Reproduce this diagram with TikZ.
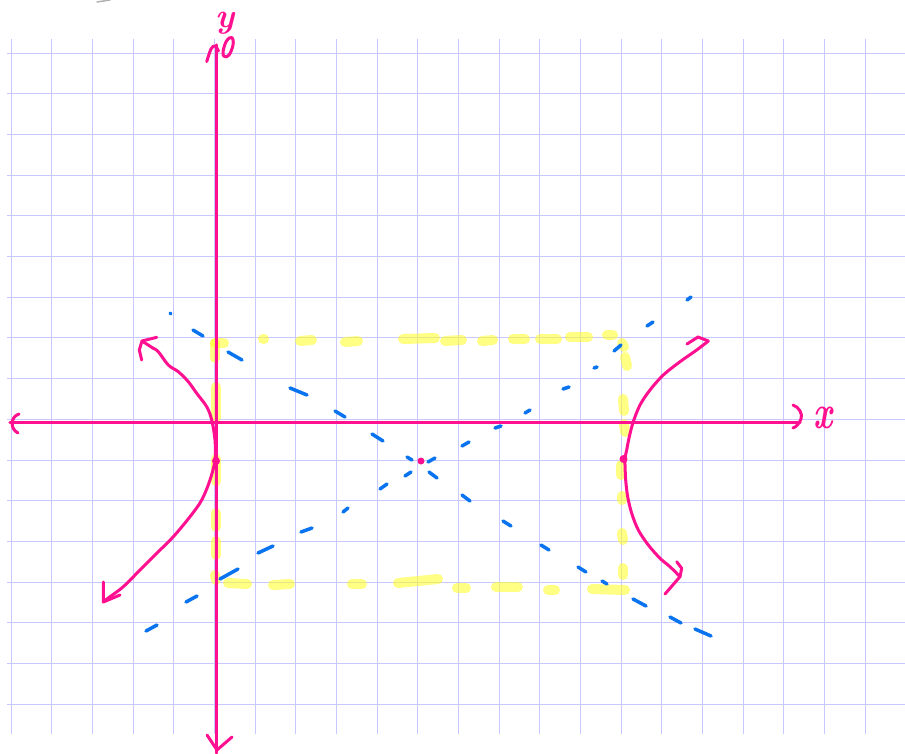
\documentclass[tikz,border=0pt]{standalone}
\usepackage{fontspec}
\definecolor{gridc}{RGB}{200,200,255}
\definecolor{pinkc}{RGB}{255,16,144}
\definecolor{bluec}{RGB}{10,116,240}
\definecolor{yelc}{RGB}{255,255,30}
\begin{document}
\begin{tikzpicture}[x=1pt,y=-1pt,
  gridline/.style={gridc, line width=1pt},
  pinkline/.style={pinkc, line width=3pt, line cap=round, line join=round},
  axisline/.style={pinkc, line width=3.4pt, line cap=round, line join=round},
  asym/.style={bluec, line width=3.5pt, line cap=round},
  boxdash/.style={yelc, line width=10pt, line cap=round, opacity=0.55},
  pdot/.style={circle, fill=pinkc, inner sep=0pt, minimum size=8pt},
  lbl/.style={text=pinkc, font=\fontsize{34}{34}\selectfont\bfseries\itshape, inner sep=0pt}
]
\useasboundingbox (0,0) rectangle (905,753);
\fill[white] (0,0) rectangle (905,753);
% grid
\foreach \k in {0,...,21} \draw[gridline] ({11+40.67*\k},39) -- ({11+40.67*\k},734);
\foreach \j in {0,...,16} \draw[gridline] (7,{53.3+40.67*\j}) -- (905,{53.3+40.67*\j});
% gray smudge
\draw[gray!60, line width=1.5pt, line cap=round] (97,2) -- (110,0);
% yellow box (dashed rectangle)
\foreach \a/\b/\c/\d in {
  215/343/224/343, 263/339/264/339, 300/341/312/340, 345/342/358/341,
  403/339/435/338, 445/341/462/340, 482/341/493/340, 513/339/525/339,
  540/339/557/339, 570/337/588/337, 607/335/613/335,
  622/343/624/347, 625/357/627/366, 623/399/624/411, 624/424/625/432,
  621/465/621/475, 622/496/622/500, 622/533/623/540, 623/568/623/575,
  215/343/215/358, 216/387/216/418, 216/459/216/481, 216/513/216/527,
  216/541/216/555, 215/575/216/580,
  228/583/247/584, 273/585/290/584, 352/584/362/584, 398/583/438/579,
  457/588/466/588, 496/587/518/587, 548/590/555/590, 592/589/625/590}
  \draw[boxdash] (\a,\b) -- (\c,\d);
% blue asymptotes
\foreach \a/\b/\c/\d in {
  146/631/157/625, 186/602/197/596, 220/579/238/569, 258/553/273/546,
  301/532/312/528, 343/512/348/508, 380/489/387/484, 405/476/411/472,
  428/462/435/458, 462/446/469/442, 495/428/501/426, 525/413/530/410,
  563/389/569/387, 594/368/597/367, 614/351/621/345, 647/326/653/322,
  687/300/691/297}
  \draw[asym] (\a,\b) -- (\c,\d);
\foreach \a/\b/\c/\d in {
  170/313/171/314, 193/330/203/336, 228/352/242/360, 290/388/307/395,
  335/411/345/417, 372/434/383/441, 407/457/412/460, 429/472/437/478,
  462/495/470/501, 503/521/511/526, 541/545/549/550, 578/567/586/572,
  602/581/607/584, 633/599/646/606, 670/617/681/623, 695/629/711/636}
  \draw[asym] (\a,\b) -- (\c,\d);
% axes
\draw[axisline] (10,422.5) -- (800,422.5);
\draw[axisline] (216.7,45) -- (216.7,753);
\draw[pinkline] (19,414) .. controls (10,417) and (10,429) .. (18,433);
\draw[pinkline] (793,405) .. controls (799,407) and (803,414) .. (801,419)
  .. controls (799,424) and (796,427) .. (793,428);
\draw[pinkline] (207,735) -- (217,750) -- (232,737);
\draw[pinkline] plot[smooth, tension=0.6] coordinates {(206.7,61.7) (211,49) (215,46) (218.5,51)};
\draw[pinkline] plot[smooth cycle, tension=0.7] coordinates {(223,52) (226.5,41) (232,37.5) (233,45) (229,55) (224.5,56.5)};
\node[lbl, anchor=base] (ylab) at (225,27) {y};
\node[lbl, anchor=base] (xlab) at (823,428) {\scalebox{1}[1.4]{x}};
% hyperbola left branch
\draw[pinkline] plot[smooth, tension=0.55] coordinates {
  (153.3,348.3) (158.3,351.7) (168.3,365) (178.3,371.7) (188.3,381.7)
  (196.7,393.3) (206.7,406.7) (211.7,420) (215,440) (215,460) (210,480)
  (201.7,500) (190,516.7) (173.3,536.7) (156.7,553.3) (140,570)
  (123.3,586.7) (110,596.7) (103.3,601.7)};
\draw[pinkline] (156.7,337.3) -- (142,341) -- (139.3,350) -- (141.7,360);
\draw[pinkline] (142,341) -- (153.3,348.3);
\draw[pinkline] (103.3,582) -- (103.3,602) -- (120,595);
% hyperbola right branch
\draw[pinkline] plot[smooth, tension=0.55] coordinates {
  (708.3,341) (696.7,350) (680,361.7) (663.3,375) (650,390) (640,405)
  (633.3,421.7) (629.3,436.7) (626.7,450) (625,460) (625.7,480)
  (627.7,496.7) (631.7,513.3) (638.3,530) (648.3,545) (660,558.3)
  (670,566.7) (680,576.7)};
\draw[pinkline] (687,344) -- (698,337) -- (708.3,341);
\draw[pinkline] (676.7,561.7) -- (681.7,568.3) -- (680,576.7) -- (665,594);
% dots
\node[pdot] (vl) at (216,461) {};
\node[pdot] (vr) at (623.5,459) {};
\node[pdot, minimum size=7pt] (ctr) at (421,461) {};
\end{tikzpicture}
\end{document}
